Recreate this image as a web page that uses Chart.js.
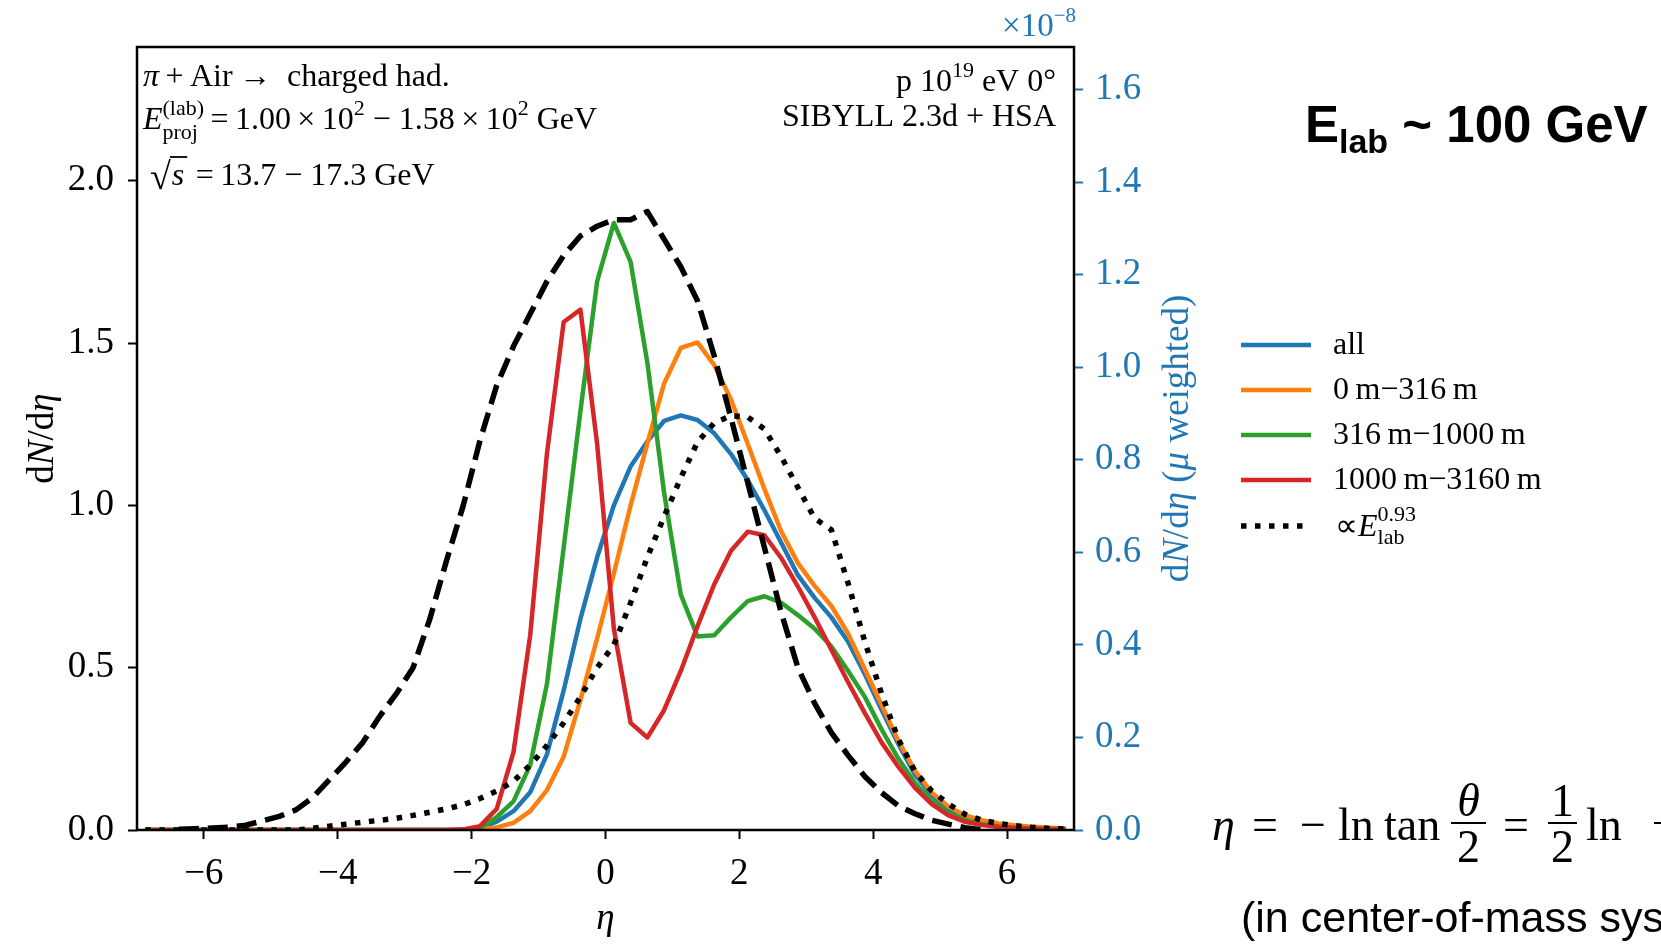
<!DOCTYPE html>
<html>
<head>
<meta charset="utf-8">
<script src="https://cdn.jsdelivr.net/npm/chart.js@4.4.1/dist/chart.umd.min.js"></script>
<style>
  html, body { margin: 0; padding: 0; background: #fff; }
  #wrap { width: 1661px; height: 946px; }
</style>
</head>
<body>
<div id="wrap"><canvas id="chartCanvas" width="1661" height="946"></canvas></div>
<script>
// eta bin centres
const eta = [-6.875, -6.625, -6.375, -6.125, -5.875, -5.625, -5.375, -5.125, -4.875, -4.625,
             -4.375, -4.125, -3.875, -3.625, -3.375, -3.125, -2.875, -2.625, -2.375, -2.125,
             -1.875, -1.625, -1.375, -1.125, -0.875, -0.625, -0.375, -0.125, 0.125, 0.375,
             0.625, 0.875, 1.125, 1.375, 1.625, 1.875, 2.125, 2.375, 2.625, 2.875,
             3.125, 3.375, 3.625, 3.875, 4.125, 4.375, 4.625, 4.875, 5.125, 5.375,
             5.625, 5.875, 6.125, 6.375, 6.625, 6.875];

// dN/deta
const allVals = [0, 0, 0, 0, 0, 0, 0, 0, 0, 0,
                 0, 0, 0, 0, 0, 0, 0, 0, 0, 0.001,
                 0.006, 0.026, 0.058, 0.116, 0.233, 0.43, 0.65, 0.84, 1.0, 1.12,
                 1.197, 1.26, 1.277, 1.263, 1.222, 1.158, 1.078, 0.985, 0.885, 0.785,
                 0.715, 0.655, 0.58, 0.48, 0.37, 0.265, 0.17, 0.108, 0.065, 0.038,
                 0.024, 0.016, 0.011, 0.008, 0.005, 0.003];
const near316 = [0, 0, 0, 0, 0, 0, 0, 0, 0, 0,
                 0, 0, 0, 0, 0, 0, 0, 0, 0, 0,
                 0.002, 0.008, 0.022, 0.058, 0.123, 0.226, 0.40, 0.59, 0.79, 1.0,
                 1.19, 1.375, 1.485, 1.502, 1.432, 1.326, 1.19, 1.05, 0.92, 0.822,
                 0.752, 0.69, 0.605, 0.495, 0.385, 0.275, 0.182, 0.115, 0.072, 0.045,
                 0.03, 0.02, 0.014, 0.01, 0.007, 0.005];
const mid1000 = [0, 0, 0, 0, 0, 0, 0, 0, 0, 0,
                 0, 0, 0, 0, 0, 0, 0, 0, 0, 0,
                 0.006, 0.04, 0.088, 0.2, 0.45, 0.87, 1.29, 1.69, 1.87, 1.75,
                 1.44, 1.04, 0.725, 0.596, 0.60, 0.655, 0.705, 0.72, 0.70, 0.662,
                 0.62, 0.565, 0.49, 0.41, 0.31, 0.22, 0.145, 0.09, 0.052, 0.03,
                 0.018, 0.011, 0.007, 0.005, 0.003, 0.002];
const far3160 = [0, 0, 0, 0, 0, 0, 0, 0, 0, 0,
                 0, 0, 0, 0, 0, 0, 0, 0, 0, 0.002,
                 0.012, 0.065, 0.24, 0.6, 1.16, 1.565, 1.603, 1.19, 0.62, 0.33,
                 0.285, 0.369, 0.49, 0.628, 0.757, 0.86, 0.919, 0.908, 0.838, 0.75,
                 0.655, 0.555, 0.455, 0.36, 0.27, 0.195, 0.13, 0.08, 0.045, 0.025,
                 0.015, 0.009, 0.006, 0.004, 0.003, 0.002];
const scaledE = [0, 0, 0, 0, 0, 0, 0, 0, 0, 0,
                 0.005, 0.012, 0.018, 0.024, 0.03, 0.036, 0.045, 0.055, 0.065, 0.078,
                 0.097, 0.12, 0.15, 0.2, 0.26, 0.33, 0.41, 0.50, 0.57, 0.70,
                 0.84, 0.965, 1.085, 1.195, 1.254, 1.276, 1.272, 1.235, 1.15, 1.055,
                 0.96, 0.925, 0.76, 0.58, 0.42, 0.28, 0.18, 0.12, 0.08, 0.048,
                 0.03, 0.02, 0.013, 0.008, 0.005, 0.003];
const hsaRef = [null, null, 0.002, 0.004, 0.006, 0.009, 0.015, 0.028, 0.042, 0.062,
                0.10, 0.155, 0.21, 0.27, 0.35, 0.42, 0.50, 0.65, 0.83, 1.0,
                1.2, 1.37, 1.49, 1.59, 1.69, 1.77, 1.83, 1.86, 1.88, 1.88,
                1.905, 1.82, 1.735, 1.63, 1.46, 1.27, 1.07, 0.87, 0.67, 0.50,
                0.39, 0.30, 0.23, 0.165, 0.115, 0.075, 0.05, 0.03, 0.018, 0.007,
                0, null, null, null, null, null];

const xTicks = [-6, -4, -2, 0, 2, 4, 6];
const yTicks = [0, 0.5, 1.0, 1.5, 2.0];
const y2Ticks = [0, 0.2, 0.4, 0.6, 0.8, 1.0, 1.2, 1.4, 1.6];
const legendLabels = ['all', '0\u2009m\u2212316\u2009m', '316\u2009m\u22121000\u2009m', '1000\u2009m\u22123160\u2009m'];

const BLUE = '#1f77b4', ORANGE = '#ff7f0e', GREEN = '#2ca02c', RED = '#d62728';
const SERIF = "'Liberation Serif', 'Times New Roman', serif";
const SANS = "'Liberation Sans', Arial, sans-serif";

function pts(vals) {
    return vals.map((v, i) => ({ x: eta[i], y: v }));
}

// draw a sequence of text pieces (with super/subscripts), returns end x
function runs(ctx, x, y, parts, align) {
    let total = 0;
    parts.forEach(p => {
        ctx.font = p.f;
        if (p.adv !== 0) total += ctx.measureText(p.t).width;
    });
    let cx = align === 'right' ? x - total : (align === 'center' ? x - total / 2 : x);
    parts.forEach(p => {
        ctx.font = p.f;
        ctx.fillText(p.t, cx, y + (p.dy || 0));
        if (p.adv !== 0) cx += ctx.measureText(p.t).width;
    });
    return cx;
}

const F32 = '32px ' + SERIF, I32 = 'italic 32px ' + SERIF, S22 = '22px ' + SERIF;

const overlay = {
    id: 'overlay',
    afterDraw(chart) {
        const ctx = chart.ctx;
        const a = chart.chartArea;
        ctx.save();

        // frame
        ctx.strokeStyle = '#000';
        ctx.lineWidth = 2.5;
        ctx.strokeRect(a.left, a.top, a.right - a.left, a.bottom - a.top);

        ctx.fillStyle = '#000';
        ctx.textBaseline = 'alphabetic';
        ctx.textAlign = 'left';

        // top left annotation
        runs(ctx, 143, 86, [{ t: '\u03c0', f: I32 }, { t: '\u2009+\u2009Air\u2009\u2192  charged had.', f: F32 }]);
        runs(ctx, 143, 129, [
            { t: 'E', f: I32 },
            { t: 'proj', f: S22, dy: 10, adv: 0 },
            { t: '(lab)', f: S22, dy: -14 },
            { t: '\u2009=\u20091.00\u2009\u00d7\u200910', f: F32 },
            { t: '2', f: S22, dy: -14 },
            { t: ' \u2212 1.58\u2009\u00d7\u200910', f: F32 },
            { t: '2', f: S22, dy: -14 },
            { t: ' GeV', f: F32 }
        ]);
        ctx.font = '38px ' + SERIF;
        ctx.fillText('\u221a', 150, 189);
        const sx = 150 + ctx.measureText('\u221a').width;
        ctx.font = I32;
        ctx.fillText('s', sx + 1, 185);
        const sEnd = sx + 1 + ctx.measureText('s').width;
        ctx.lineWidth = 1.8;
        ctx.beginPath();
        ctx.moveTo(sx - 1, 157);
        ctx.lineTo(sEnd + 3, 157);
        ctx.stroke();
        runs(ctx, sEnd + 5, 185, [{ t: '\u2009=\u200913.7 \u2212 17.3 GeV', f: F32 }]);

        // top right annotation
        runs(ctx, 1056, 91, [
            { t: 'p 10', f: F32 }, { t: '19', f: S22, dy: -14 }, { t: ' eV 0\u00b0', f: F32 }
        ], 'right');
        runs(ctx, 1056, 126, [{ t: 'SIBYLL 2.3d + HSA', f: F32 }], 'right');

        // axis offset text
        ctx.fillStyle = BLUE;
        runs(ctx, 1076, 36, [
            { t: '\u00d710', f: '33px ' + SERIF }, { t: '\u22128', f: '21px ' + SERIF, dy: -14 }
        ], 'right');

        // axis titles
        ctx.textBaseline = 'middle';
        const I36 = 'italic 37px ' + SERIF, F36 = '37px ' + SERIF;
        ctx.fillStyle = '#000';
        ctx.save();
        ctx.translate(43, (a.top + a.bottom) / 2);
        ctx.rotate(-Math.PI / 2);
        runs(ctx, 0, 0, [{ t: 'd', f: F36 }, { t: 'N', f: I36 }, { t: '/d', f: F36 }, { t: '\u03b7', f: I36 }], 'center');
        ctx.restore();

        ctx.fillStyle = BLUE;
        ctx.save();
        ctx.translate(1178, (a.top + a.bottom) / 2);
        ctx.rotate(-Math.PI / 2);
        runs(ctx, 0, 0, [
            { t: 'd', f: F36 }, { t: 'N', f: I36 }, { t: '/d', f: F36 }, { t: '\u03b7', f: I36 },
            { t: ' (', f: F36 }, { t: '\u03bc', f: I36 }, { t: ' weighted)', f: F36 }
        ], 'center');
        ctx.restore();

        ctx.fillStyle = '#000';
        runs(ctx, (a.left + a.right) / 2, 919, [{ t: '\u03b7', f: I36 }], 'center');

        // legend
        const legendY = [345, 390, 435, 480, 526];
        const ds = chart.data.datasets;
        for (let i = 0; i < 5; i++) {
            const d = ds[i];
            ctx.strokeStyle = d.borderColor;
            ctx.lineWidth = d.borderWidth;
            ctx.setLineDash(d.borderDash || []);
            ctx.lineCap = 'butt';
            ctx.beginPath();
            ctx.moveTo(1241, legendY[i]);
            ctx.lineTo(1311, legendY[i]);
            ctx.stroke();
        }
        ctx.setLineDash([]);
        ctx.fillStyle = '#000';
        legendLabels.forEach((lab, i) => runs(ctx, 1333, legendY[i] + 1, [{ t: lab, f: F32 }]));
        runs(ctx, 1335, legendY[4] + 2, [
            { t: '\u221d', f: F32 }, { t: 'E', f: I32 },
            { t: 'lab', f: S22, dy: 10, adv: 0 }, { t: '0.93', f: S22, dy: -13 }
        ]);

        // big label on the right
        ctx.textBaseline = 'alphabetic';
        runs(ctx, 1305, 142, [
            { t: 'E', f: 'bold 51px ' + SANS }, { t: 'lab', f: 'bold 34px ' + SANS, dy: 11 },
            { t: ' ~ 100 GeV', f: 'bold 51px ' + SANS }
        ]);

        // pseudorapidity definition
        const M = '46px ' + SERIF, MI = 'italic 46px ' + SERIF;
        const base = 840;
        runs(ctx, 1212, base, [{ t: '\u03b7', f: MI }]);
        runs(ctx, 1252, base, [{ t: '=', f: M }]);
        runs(ctx, 1300, base, [{ t: '\u2212', f: M }]);
        runs(ctx, 1338, base, [{ t: 'ln', f: M }]);
        runs(ctx, 1384, base, [{ t: 'tan', f: M }]);
        ctx.lineWidth = 2;
        ctx.strokeStyle = '#000';
        function frac(x0, x1, top, bottom) {
            ctx.beginPath();
            ctx.moveTo(x0, 823);
            ctx.lineTo(x1, 823);
            ctx.stroke();
            runs(ctx, (x0 + x1) / 2, 816, top, 'center');
            runs(ctx, (x0 + x1) / 2, 862, bottom, 'center');
        }
        frac(1451, 1486, [{ t: '\u03b8', f: MI }], [{ t: '2', f: M }]);
        runs(ctx, 1503, base, [{ t: '=', f: M }]);
        frac(1548, 1577, [{ t: '1', f: M }], [{ t: '2', f: M }]);
        runs(ctx, 1586, base, [{ t: 'ln', f: M }]);
        // last fraction runs off the right edge
        ctx.beginPath();
        ctx.moveTo(1654, 823);
        ctx.lineTo(1700, 823);
        ctx.stroke();
        runs(ctx, 1655, 816, [{ t: '|p| + p', f: MI }]);
        runs(ctx, 1655, 862, [{ t: '|p| \u2212 p', f: MI }]);
        runs(ctx, 1241, 932, [{ t: '(in center-of-mass system)', f: '43px ' + SANS }]);

        ctx.restore();
    }
};

const tickFont = { family: SERIF, size: 37 };

new Chart(document.getElementById('chartCanvas'), {
    type: 'line',
    data: {
        datasets: [
            { label: 'all', data: pts(allVals), borderColor: BLUE, borderWidth: 4.5, order: 5 },
            { label: legendLabels[1], data: pts(near316), borderColor: ORANGE, borderWidth: 4.5, order: 4 },
            { label: legendLabels[2], data: pts(mid1000), borderColor: GREEN, borderWidth: 4.5, order: 3 },
            { label: legendLabels[3], data: pts(far3160), borderColor: RED, borderWidth: 4.5, order: 2 },
            { label: 'E^0.93', data: pts(scaledE), borderColor: '#000', borderWidth: 5.5, borderDash: [5.5, 8.5], order: 1 },
            { label: 'HSA', data: pts(hsaRef), borderColor: '#000', borderWidth: 5.5, borderDash: [20, 9], order: 0 }
        ]
    },
    options: {
        responsive: false,
        animation: false,
        layout: { padding: { top: 47, right: 461, left: 0, bottom: 0 } },
        elements: {
            point: { radius: 0 },
            line: { tension: 0, fill: false, borderCapStyle: 'butt', borderJoinStyle: 'round' }
        },
        plugins: { legend: { display: false }, tooltip: { enabled: false } },
        scales: {
            x: {
                type: 'linear', min: -7, max: 7,
                afterBuildTicks: s => { s.ticks = xTicks.map(v => ({ value: v })); },
                afterFit: s => { s.height = 116; },
                border: { display: false },
                grid: { drawOnChartArea: false, tickLength: 9, tickWidth: 2, tickColor: '#000' },
                ticks: {
                    font: tickFont, color: '#000', padding: 13, maxRotation: 0,
                    callback: v => (v < 0 ? '\u2212' + Math.abs(v) : String(v))
                }
            },
            y: {
                position: 'left', min: 0, max: 2.412,
                afterBuildTicks: s => { s.ticks = yTicks.map(v => ({ value: v })); },
                afterFit: s => { s.width = 137; },
                border: { display: false },
                grid: { drawOnChartArea: false, tickLength: 9, tickWidth: 2, tickColor: '#000' },
                ticks: { font: tickFont, color: '#000', padding: 14, callback: v => v.toFixed(1) }
            },
            y2: {
                position: 'right', min: 0, max: 1.6917,
                afterBuildTicks: s => { s.ticks = y2Ticks.map(v => ({ value: v })); },
                afterFit: s => { s.width = 126; },
                border: { display: false },
                grid: { drawOnChartArea: false, tickLength: 9, tickWidth: 2, tickColor: BLUE },
                ticks: { font: tickFont, color: BLUE, padding: 12, callback: v => v.toFixed(1) }
            }
        }
    },
    plugins: [overlay]
});
</script>
</body>
</html>
